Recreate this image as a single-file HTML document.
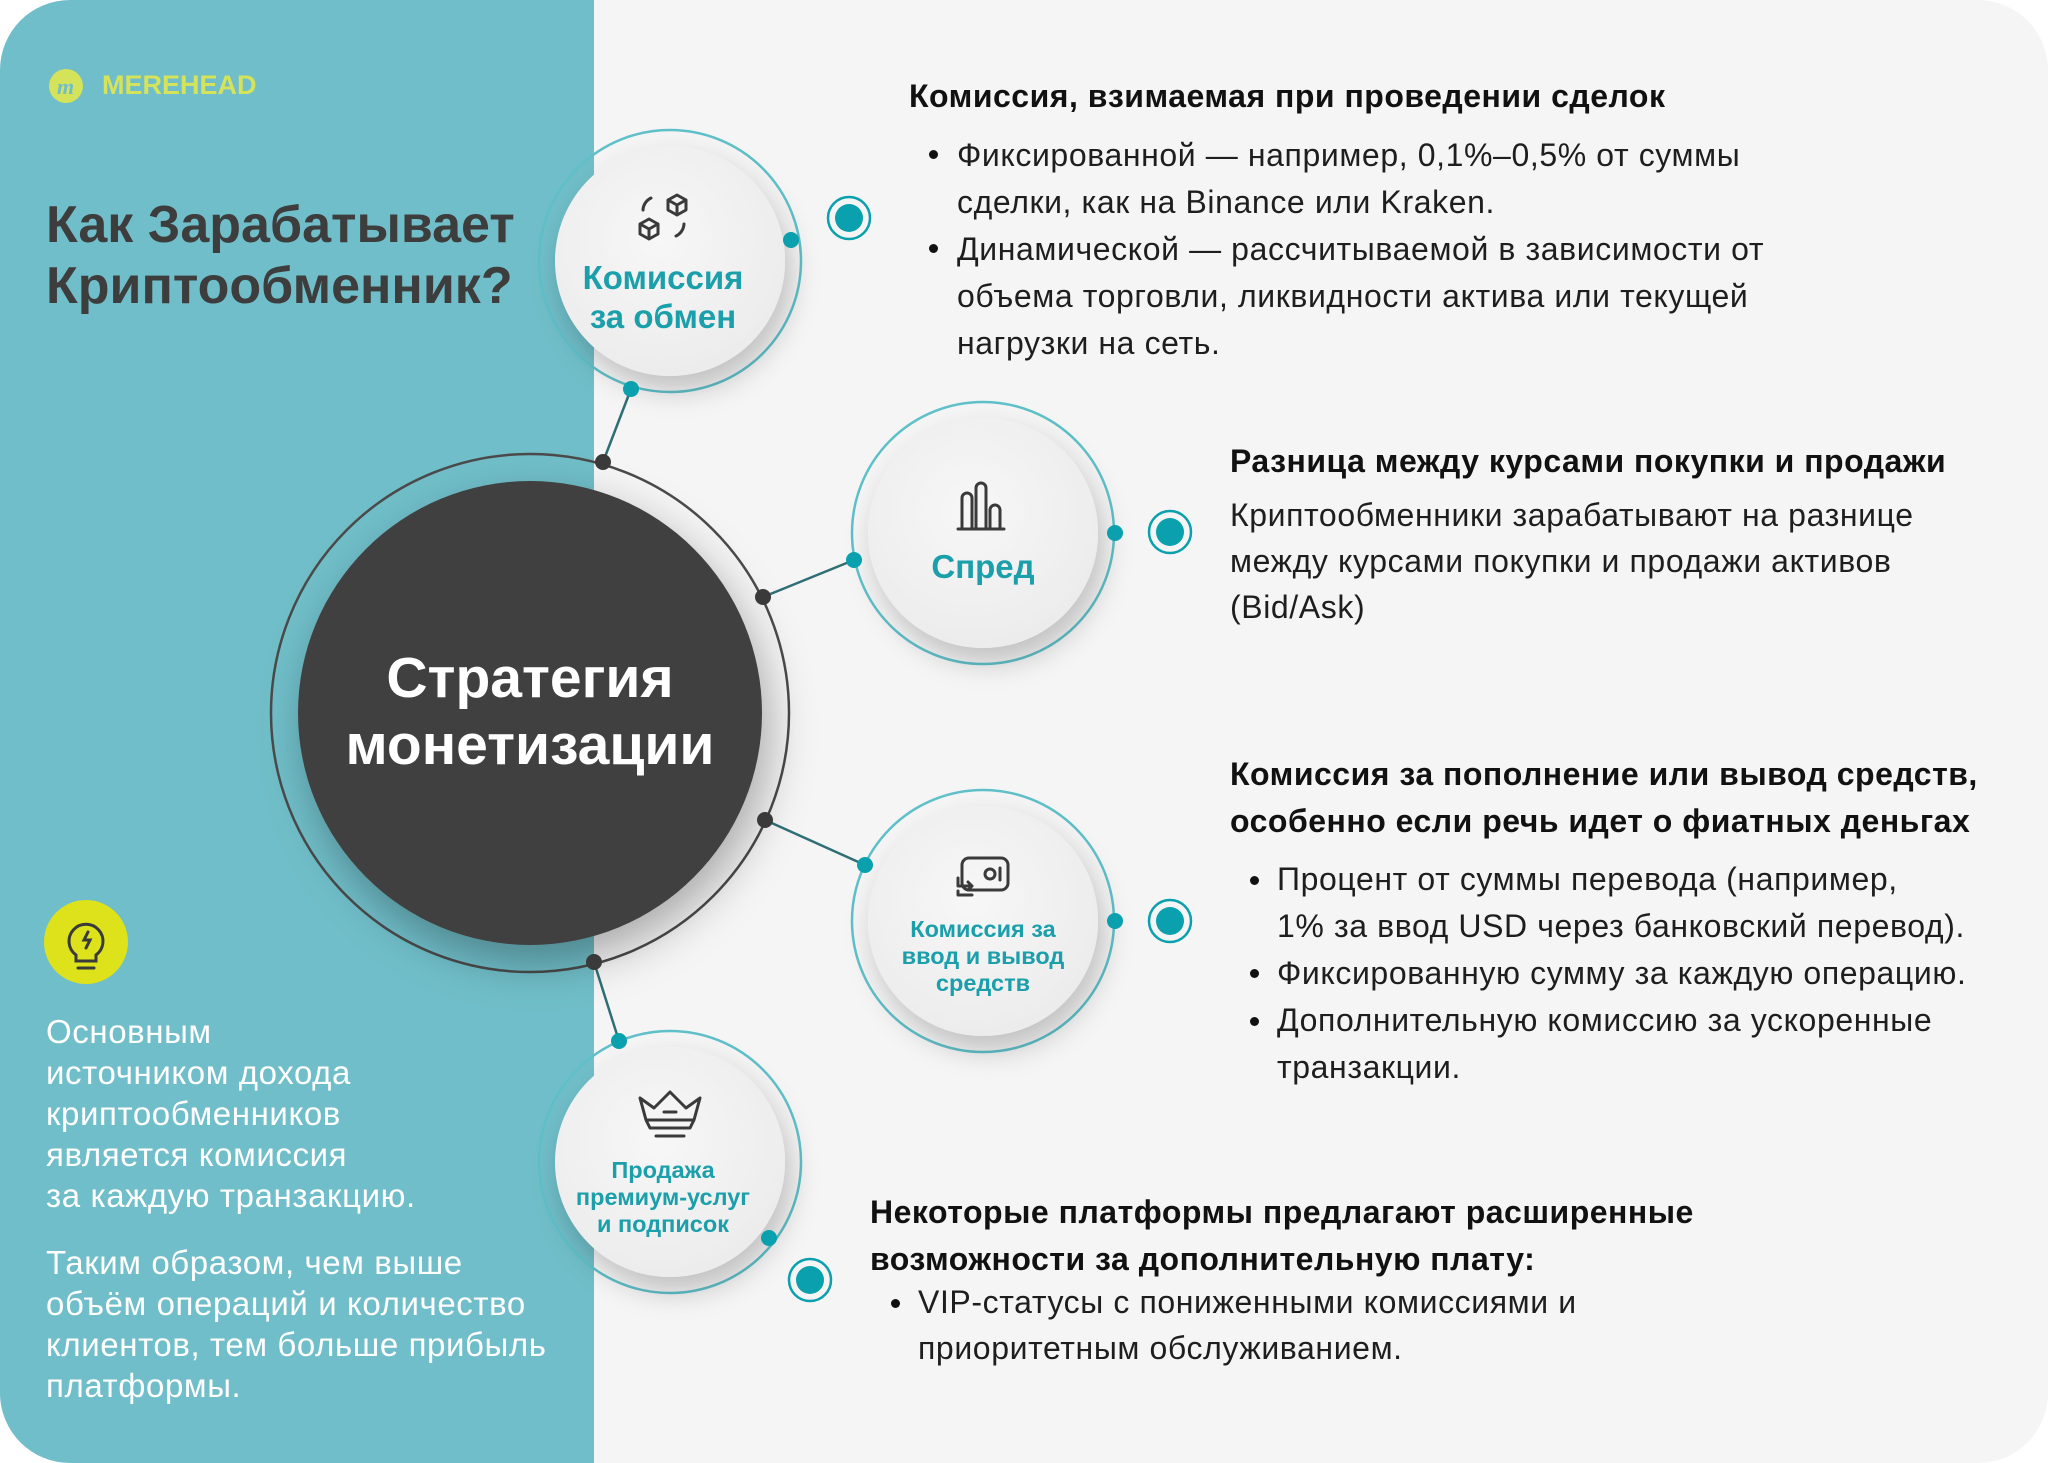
<!DOCTYPE html>
<html><head><meta charset="utf-8"><style>
*{margin:0;padding:0;box-sizing:border-box}
html,body{width:2048px;height:1463px;overflow:hidden;background:#fff}
#c{position:absolute;left:0;top:0;width:2048px;height:1463px;border-radius:70px;overflow:hidden;background:#f5f5f5;font-family:"Liberation Sans","Noto Sans CJK SC",sans-serif}
#teal{position:absolute;left:0;top:0;width:594px;height:1463px;background:#70bec9}
.t{position:absolute;white-space:nowrap}
.b{font-weight:bold}
.body{font-size:32px;letter-spacing:0.6px;color:#1e1e1e}
.hd{font-size:32px;letter-spacing:0.5px;font-weight:bold;color:#111}
.bul{position:absolute;width:9px;height:9px;border-radius:50%;background:#111}
.nl{position:absolute;text-align:center;color:#1a9fab;font-weight:bold;white-space:nowrap;transform:translateX(-50%)}
.lt{font-size:33px;letter-spacing:0.6px;color:#fff}
</style></head><body><div id="c">
<div id="teal"></div>
<svg width="2048" height="1463" style="position:absolute;left:0;top:0">
<defs>
<filter id="sh" x="-40%" y="-40%" width="180%" height="180%"><feDropShadow dx="6" dy="14" stdDeviation="14" flood-color="#000" flood-opacity="0.22"/></filter>
<filter id="sh2" x="-40%" y="-40%" width="180%" height="180%"><feDropShadow dx="8" dy="18" stdDeviation="22" flood-color="#000" flood-opacity="0.3"/></filter>
<radialGradient id="ng" cx="45%" cy="40%" r="60%"><stop offset="0" stop-color="#f7f7f7"/><stop offset="1" stop-color="#ececec"/></radialGradient>
</defs>
<g stroke="#2f6e74" stroke-width="2.5">
<line x1="603" y1="462" x2="631" y2="389"/>
<line x1="763" y1="597" x2="854" y2="560"/>
<line x1="765" y1="820" x2="865" y2="865"/>
<line x1="594" y1="962" x2="619" y2="1041"/>
</g>
<circle cx="530" cy="713" r="259" fill="none" stroke="#4a4a4a" stroke-width="2.5"/>
<circle cx="530" cy="713" r="232" fill="#404040" filter="url(#sh2)"/>
<g fill="#3a3a3a"><circle cx="603" cy="462" r="8"/><circle cx="763" cy="597" r="8"/><circle cx="765" cy="820" r="8"/><circle cx="594" cy="962" r="8"/></g>
<g>
<circle cx="670" cy="261" r="131" fill="none" stroke="#5fc0c9" stroke-width="2.5"/>
<circle cx="670" cy="261" r="115" fill="url(#ng)" filter="url(#sh)"/>
<circle cx="983" cy="533" r="131" fill="none" stroke="#5fc0c9" stroke-width="2.5"/>
<circle cx="983" cy="533" r="115" fill="url(#ng)" filter="url(#sh)"/>
<circle cx="983" cy="921" r="131" fill="none" stroke="#5fc0c9" stroke-width="2.5"/>
<circle cx="983" cy="921" r="115" fill="url(#ng)" filter="url(#sh)"/>
<circle cx="670" cy="1162" r="131" fill="none" stroke="#5fc0c9" stroke-width="2.5"/>
<circle cx="670" cy="1162" r="115" fill="url(#ng)" filter="url(#sh)"/>
</g>
<g fill="#0aa0ad">
<circle cx="631" cy="389" r="8"/><circle cx="854" cy="560" r="8"/><circle cx="865" cy="865" r="8"/><circle cx="619" cy="1041" r="8"/>
<circle cx="791" cy="240" r="8"/><circle cx="1115" cy="533" r="8"/><circle cx="1115" cy="921" r="8"/><circle cx="769" cy="1238" r="8"/>
</g>
<g>
<circle cx="849" cy="218" r="21" fill="none" stroke="#0aa0ad" stroke-width="2.5"/><circle cx="849" cy="218" r="14" fill="#0aa0ad"/>
<circle cx="1170" cy="532" r="21" fill="none" stroke="#0aa0ad" stroke-width="2.5"/><circle cx="1170" cy="532" r="14" fill="#0aa0ad"/>
<circle cx="1170" cy="921" r="21" fill="none" stroke="#0aa0ad" stroke-width="2.5"/><circle cx="1170" cy="921" r="14" fill="#0aa0ad"/>
<circle cx="810" cy="1280" r="21" fill="none" stroke="#0aa0ad" stroke-width="2.5"/><circle cx="810" cy="1280" r="14" fill="#0aa0ad"/>
</g>
<g fill="none" stroke="#3a3a3a" stroke-width="3" stroke-linecap="round" stroke-linejoin="round">
<path d="M643 210 a14 14 0 0 1 8 -12"/><path d="M684 224 a14 14 0 0 1 -8 12"/>
<path d="M668 200 l9 -5 9 5 v10 l-9 5 -9 -5z M668 200 l9 5 9 -5 M677 205 v10"/>
<path d="M640 224 l9 -5 9 5 v10 l-9 5 -9 -5z M640 224 l9 5 9 -5 M649 229 v10"/>
<path d="M962 528 v-30 a5 5 0 0 1 10 0 v30 M976 528 v-40 a5 5 0 0 1 10 0 v40 M990 528 v-18 a5 5 0 0 1 10 0 v18 M958 529 h46"/>
<rect x="962" y="858" width="46" height="32" rx="7"/><circle cx="990" cy="874" r="5"/><path d="M1000 868 v12"/>
<path d="M958 878 v8 h14 M968 882 l4 4 -4 4 M972 895 h-14 v-4"/>
<path d="M640 1098 l6 22 h48 l6 -22 -14 10 -16 -16 -16 16z M646 1120 l4 8 h40 l4 -8 M656 1136 h28 M664 1112 h12"/>
</g>
<circle cx="86" cy="942" r="42" fill="#dde21a"/>
<g fill="none" stroke="#3a3a3a" stroke-width="3" stroke-linecap="round">
<path d="M76 955 a17 17 0 1 1 20 0 v6 h-20z M78 968 h16"/><path d="M88 932 l-4 8 h6 l-4 8"/>
</g>
<circle cx="66" cy="86" r="17" fill="#d5e35a"/>
<text x="57" y="94" font-family="Liberation Serif" font-style="italic" font-weight="bold" font-size="22" fill="#70bec9">m</text>
</svg>
<div class="t b" style="left:102px;top:70px;font-size:27px;color:#d5e35a">MEREHEAD</div>
<div class="t b" style="left:46px;top:195px;font-size:52px;color:#3d3d3d;line-height:61px">Как Зарабатывает<br>Криптообменник?</div>
<div class="t b" style="left:530px;top:645px;transform:translateX(-50%);font-size:57px;color:#fff;line-height:67px;text-align:center">Стратегия<br>монетизации</div>
<div class="nl" style="left:663px;top:258px;font-size:33px;line-height:39px">Комиссия<br>за обмен</div>
<div class="nl" style="left:983px;top:548px;font-size:33px">Спред</div>
<div class="nl" style="left:983px;top:916px;font-size:23.5px;line-height:27px">Комиссия за<br>ввод и вывод<br>средств</div>
<div class="nl" style="left:663px;top:1157px;font-size:23.5px;line-height:27px">Продажа<br>премиум-услуг<br>и подписок</div>
<div class="t lt" style="left:46px;top:1011px;line-height:41px">Основным<br>источником дохода<br>криптообменников<br>является комиссия<br>за каждую транзакцию.</div>
<div class="t lt" style="left:46px;top:1242px;line-height:41px">Таким образом, чем выше<br>объём операций и количество<br>клиентов, тем больше прибыль<br>платформы.</div>
<div class="t hd" style="left:909px;top:78px">Комиссия, взимаемая при проведении сделок</div>
<div class="bul" style="left:929px;top:150px"></div><div class="bul" style="left:929px;top:244px"></div>
<div class="t body" style="left:957px;top:132px;line-height:47px">Фиксированной — например, 0,1%–0,5% от суммы<br>сделки, как на Binance или Kraken.<br>Динамической — рассчитываемой в зависимости от<br>объема торговли, ликвидности актива или текущей<br>нагрузки на сеть.</div>
<div class="t hd" style="left:1230px;top:443px">Разница между курсами покупки и продажи</div>
<div class="t body" style="left:1230px;top:492px;line-height:46px">Криптообменники зарабатывают на разнице<br>между курсами покупки и продажи активов<br>(Bid/Ask)</div>
<div class="t hd" style="left:1230px;top:751px;line-height:47px">Комиссия за пополнение или вывод средств,<br>особенно если речь идет о фиатных деньгах</div>
<div class="bul" style="left:1250px;top:876px"></div><div class="bul" style="left:1250px;top:969px"></div><div class="bul" style="left:1250px;top:1017px"></div>
<div class="t body" style="left:1277px;top:856px;line-height:47px">Процент от суммы перевода (например,<br>1% за ввод USD через банковский перевод).<br>Фиксированную сумму за каждую операцию.<br>Дополнительную комиссию за ускоренные<br>транзакции.</div>
<div class="t hd" style="left:870px;top:1189px;line-height:47px">Некоторые платформы предлагают расширенные<br>возможности за дополнительную плату:</div>
<div class="bul" style="left:891px;top:1299px"></div>
<div class="t body" style="left:918px;top:1279px;line-height:46px">VIP-статусы с пониженными комиссиями и<br>приоритетным обслуживанием.</div>
</div></body></html>
